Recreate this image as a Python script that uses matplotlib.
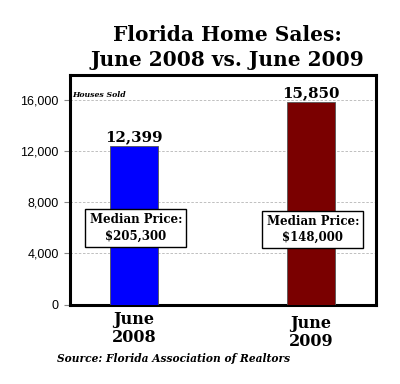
import matplotlib
matplotlib.use("Agg")
import matplotlib.pyplot as plt
from matplotlib.ticker import FuncFormatter

categories = ["June\n2008", "June\n2009"]
houses_sold = [12399, 15850]
value_labels = ["12,399", "15,850"]
median_labels = ["Median Price:\n$205,300", "Median Price:\n$148,000"]
median_y = [6000, 5900]
yticks = [0, 4000, 8000, 12000, 16000]
colors = ["#0000FF", "#7A0000"]

serif = "DejaVu Serif"

fig = plt.figure(figsize=(4, 3.84), dpi=100)
ax = fig.add_axes([0.175, 0.207, 0.765, 0.598])

x = list(range(len(categories)))
ax.bar(x, houses_sold, width=0.27, color=colors, edgecolor="#555555", linewidth=0.6, zorder=3)
ax.set_xlim(-0.362, 1.367)
ax.set_ylim(0, 18000)
ax.set_yticks(yticks)
ax.yaxis.set_major_formatter(FuncFormatter(lambda v, p: f"{int(v):,}"))
ax.grid(axis="y", linestyle=(0, (3, 2)), color="#b5b5b5", linewidth=0.6, zorder=0)
ax.set_xticks([])
ax.tick_params(axis="y", labelsize=9, length=4, color="#888888", pad=4)
for lab in ax.get_yticklabels():
    lab.set_family("Liberation Sans")
for s in ax.spines.values():
    s.set_linewidth(2.2)
    s.set_color("black")

for xi, v, lab in zip(x, houses_sold, value_labels):
    ax.text(xi, v + 200, lab, ha="center", va="bottom", family=serif,
            fontweight="bold", fontsize=10.8, zorder=5)

for xi, my, lab in zip(x, median_y, median_labels):
    ax.text(xi + 0.01, my, lab, ha="center", va="center", family=serif,
            fontweight="bold", fontsize=8.5, linespacing=1.3, zorder=6,
            bbox=dict(boxstyle="square,pad=0.35", facecolor="white",
                      edgecolor="black", linewidth=1.0))

ax.text(0.006, 0.93, "Houses Sold", transform=ax.transAxes, ha="left", va="top",
        family=serif, fontstyle="italic", fontweight="bold", fontsize=5.6)

# x labels
label_offsets = [311, 315]
for xi, lab, yp in zip(x, categories, label_offsets):
    fig.text((70 + (xi + 0.362) / 1.729 * 306) / 400, 1 - yp / 384, lab,
             ha="center", va="top", family=serif, fontweight="bold",
             fontsize=11.5, linespacing=1.05)

fig.text(227 / 400, 1 - 25 / 384, "Florida Home Sales:\nJune 2008 vs. June 2009",
         ha="center", va="top", family=serif, fontweight="bold", fontsize=14.5,
         linespacing=1.3)

fig.text(57 / 400, 1 - 358 / 384, "Source: Florida Association of Realtors",
         ha="left", va="center", family=serif, fontstyle="italic",
         fontweight="bold", fontsize=7.7)

fig.savefig("out.png", dpi=100, facecolor="white")
